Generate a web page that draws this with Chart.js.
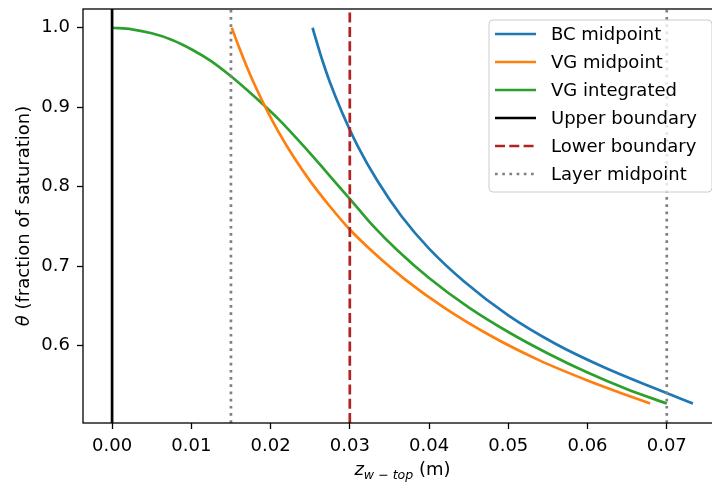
<!DOCTYPE html>
<html lang="en">
<head>
<meta charset="UTF-8">
<title>Saturation profiles</title>
<script src="https://cdn.jsdelivr.net/npm/chart.js"></script>
<style>
    html, body {
        margin: 0;
        padding: 0;
        overflow: hidden;
        background: #fff;
    }
    #plot {
        display: block;
    }
</style>
</head>
<body>
<canvas id="plot" width="740" height="483"></canvas>
<script>
// depth below the top of the layer (m) and saturation for each profile
const bcZ = [0.0253, 0.0258, 0.0265, 0.0275, 0.0290, 0.0310, 0.0335, 0.0365, 0.0400, 0.0445, 0.0500, 0.0560, 0.0620, 0.0680, 0.0733];
const bcTheta = [1.000, 0.983, 0.960, 0.931, 0.894, 0.851, 0.807, 0.763, 0.722, 0.680, 0.638, 0.602, 0.573, 0.548, 0.527];

const vgMidZ = [0.0151, 0.0160, 0.0170, 0.0180, 0.0195, 0.0210, 0.0230, 0.0250, 0.0275, 0.0300, 0.0330, 0.0370, 0.0420, 0.0480, 0.0540, 0.0600, 0.0640, 0.0679];
const vgMidTheta = [1.000, 0.976, 0.951, 0.928, 0.897, 0.869, 0.836, 0.807, 0.775, 0.746, 0.717, 0.683, 0.647, 0.611, 0.581, 0.556, 0.541, 0.527];

const vgIntZ = [0.0000, 0.0025, 0.0050, 0.0075, 0.0100, 0.0125, 0.0150, 0.0170, 0.0190, 0.0210, 0.0230, 0.0250, 0.0270, 0.0290, 0.0310, 0.0330, 0.0360, 0.0400, 0.0450, 0.0500, 0.0550, 0.0600, 0.0650, 0.0700];
const vgIntTheta = [1.000, 0.998, 0.993, 0.985, 0.973, 0.958, 0.939, 0.922, 0.904, 0.885, 0.864, 0.842, 0.819, 0.796, 0.773, 0.750, 0.720, 0.685, 0.648, 0.617, 0.590, 0.566, 0.545, 0.527];

// reference depths
const upperBoundary = 0.0;
const lowerBoundary = 0.03;
const layerMidpoints = [0.015, 0.07];

// axes
const xTicks = [0.00, 0.01, 0.02, 0.03, 0.04, 0.05, 0.06, 0.07];
const yTicks = [0.6, 0.7, 0.8, 0.9, 1.0];
const xRange = [-0.00367, 0.07697];
const yRange = [0.5025, 1.0236];

const FONT = "'DejaVu Sans', sans-serif";
const LW = 2.7;

function toPoints(xs, ys) {
    return xs.map((x, i) => ({ x: x, y: ys[i] }));
}

// vertical line spanning the whole y range
function vline(x) {
    return [{ x: x, y: yRange[0] }, { x: x, y: yRange[1] }];
}

const curveStyle = {
    borderWidth: LW,
    pointRadius: 0,
    fill: false,
    cubicInterpolationMode: 'monotone',
    order: 2
};

const datasets = [
    Object.assign({ label: 'BC midpoint', data: toPoints(bcZ, bcTheta), borderColor: '#1f77b4' }, curveStyle),
    Object.assign({ label: 'VG midpoint', data: toPoints(vgMidZ, vgMidTheta), borderColor: '#ff7f0e' }, curveStyle),
    Object.assign({ label: 'VG integrated', data: toPoints(vgIntZ, vgIntTheta), borderColor: '#2ca02c' }, curveStyle),
    { label: 'Upper boundary', data: vline(upperBoundary), borderColor: '#000000', borderWidth: LW, pointRadius: 0, order: 1 },
    { label: 'Lower boundary', data: vline(lowerBoundary), borderColor: '#b22222', borderWidth: LW, borderDash: [10, 4.3], borderCapStyle: 'butt', pointRadius: 0, order: 1 },
    { label: 'Layer midpoint', data: vline(layerMidpoints[0]), borderColor: '#808080', borderWidth: LW, borderDash: [2.7, 4.5], borderCapStyle: 'butt', pointRadius: 0, order: 1 },
    { label: 'Layer midpoint', data: vline(layerMidpoints[1]), borderColor: '#808080', borderWidth: LW, borderDash: [2.7, 4.5], borderCapStyle: 'butt', pointRadius: 0, order: 1, inLegend: false }
];

// box around the plot area
const framePlugin = {
    id: 'frame',
    afterDatasetsDraw(chart) {
        const a = chart.chartArea;
        const ctx = chart.ctx;
        ctx.save();
        ctx.strokeStyle = '#000';
        ctx.lineWidth = 1.3;
        ctx.setLineDash([]);
        ctx.strokeRect(a.left, a.top, a.right - a.left, a.bottom - a.top);
        ctx.restore();
    }
};

// axis titles with italic symbols and subscript
const titlesPlugin = {
    id: 'titles',
    afterDraw(chart) {
        const ctx = chart.ctx;
        const a = chart.chartArea;
        ctx.save();
        ctx.fillStyle = '#000';
        ctx.textBaseline = 'alphabetic';
        ctx.textAlign = 'left';

        // x title: z_{w-top} (m)
        const big = 18, small = 12.6, gap = 4;
        const parts = [
            { t: 'z', f: 'italic ' + big + 'px ' + FONT, dy: 0, pad: 0 },
            { t: 'w', f: 'italic ' + small + 'px ' + FONT, dy: 4, pad: 0 },
            { t: '\u2212', f: small + 'px ' + FONT, dy: 4, pad: gap },
            { t: 'top', f: 'italic ' + small + 'px ' + FONT, dy: 4, pad: gap },
            { t: ' (m)', f: big + 'px ' + FONT, dy: 0, pad: 0 }
        ];
        let total = 0;
        parts.forEach(p => { ctx.font = p.f; p.w = ctx.measureText(p.t).width; total += p.w + p.pad; });
        let x = (a.left + a.right) / 2 - total / 2;
        const base = 475;
        parts.forEach(p => {
            ctx.font = p.f;
            x += p.pad;
            ctx.fillText(p.t, x, base + p.dy);
            x += p.w;
        });

        // y title: theta (fraction of saturation)
        const yParts = [
            { t: '\u03b8', f: 'italic ' + big + 'px ' + FONT },
            { t: ' (fraction of saturation)', f: big + 'px ' + FONT }
        ];
        let yTotal = 0;
        yParts.forEach(p => { ctx.font = p.f; p.w = ctx.measureText(p.t).width; yTotal += p.w; });
        ctx.translate(29, (a.top + a.bottom) / 2);
        ctx.rotate(-Math.PI / 2);
        let s = -yTotal / 2;
        yParts.forEach(p => {
            ctx.font = p.f;
            ctx.fillText(p.t, s, 0);
            s += p.w;
        });
        ctx.restore();
    }
};

// legend box in the upper right corner of the plot
const legendPlugin = {
    id: 'boxLegend',
    afterDraw(chart) {
        const ctx = chart.ctx;
        const a = chart.chartArea;
        const items = chart.data.datasets.filter(d => d.inLegend !== false);
        const w = 223, h = 172;
        const left = a.right - 10 - w, top = a.top + 11;
        ctx.save();
        ctx.beginPath();
        ctx.roundRect(left, top, w, h, 4);
        ctx.fillStyle = 'rgba(255,255,255,0.8)';
        ctx.fill();
        ctx.strokeStyle = '#cccccc';
        ctx.lineWidth = 1;
        ctx.stroke();

        ctx.font = '18px ' + FONT;
        ctx.textBaseline = 'middle';
        items.forEach((d, i) => {
            const y = top + 14 + i * 28;
            ctx.beginPath();
            ctx.strokeStyle = d.borderColor;
            ctx.lineWidth = d.borderWidth;
            ctx.lineCap = 'butt';
            ctx.setLineDash(d.borderDash || []);
            ctx.moveTo(left + 6, y);
            ctx.lineTo(left + 47, y);
            ctx.stroke();
            ctx.setLineDash([]);
            ctx.fillStyle = '#000';
            ctx.fillText(d.label, left + 62, y + 1);
        });
        ctx.restore();
    }
};

const tickFont = { family: FONT, size: 18 };

new Chart(document.getElementById('plot').getContext('2d'), {
    type: 'line',
    data: { datasets: datasets },
    options: {
        responsive: false,
        animation: false,
        devicePixelRatio: 1,
        layout: { padding: { top: 9, right: 18, left: 0, bottom: 0 } },
        plugins: {
            legend: { display: false },
            tooltip: { enabled: false }
        },
        scales: {
            x: {
                type: 'linear',
                min: xRange[0],
                max: xRange[1],
                afterBuildTicks: s => { s.ticks = xTicks.map(v => ({ value: v })); },
                afterFit: s => { s.height = 60; s.paddingLeft = 0; s.paddingRight = 0; },
                border: { display: false },
                grid: { drawOnChartArea: false, drawTicks: true, tickLength: 6, tickWidth: 1.3, tickColor: '#000' },
                ticks: { color: '#000', font: tickFont, padding: 7, maxRotation: 0, autoSkip: false, callback: v => v.toFixed(2) }
            },
            y: {
                type: 'linear',
                min: yRange[0],
                max: yRange[1],
                afterBuildTicks: s => { s.ticks = yTicks.map(v => ({ value: v })); },
                afterFit: s => { s.width = 83; s.paddingTop = 0; s.paddingBottom = 0; },
                border: { display: false },
                grid: { drawOnChartArea: false, drawTicks: true, tickLength: 6, tickWidth: 1.3, tickColor: '#000' },
                ticks: { color: '#000', font: tickFont, padding: 7, autoSkip: false, callback: v => v.toFixed(1) }
            }
        }
    },
    plugins: [framePlugin, titlesPlugin, legendPlugin]
});
</script>
</body>
</html>
